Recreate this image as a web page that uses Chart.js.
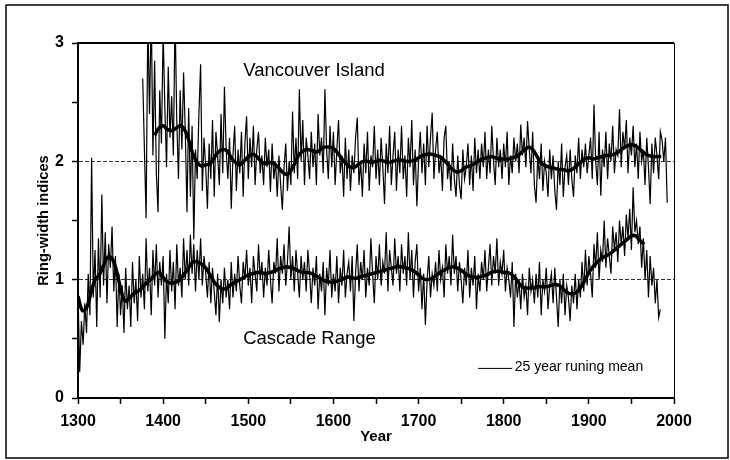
<!DOCTYPE html>
<html>
<head>
<meta charset="utf-8">
<script src="https://cdn.jsdelivr.net/npm/chart.js@4.4.1/dist/chart.umd.min.js"></script>
<style>
  html, body { margin: 0; padding: 0; background: #fff; }
  canvas { display: block; }
</style>
</head>
<body>
<canvas id="myChart" width="730" height="460"></canvas>
<script>
// ring-width indices, Vancouver Island shifted +1 in the figure
const rawStep = 2;
const vanRawStart = 1376;
const vanRaw = [
    2.70, 2.10, 1.52, 3.20, 2.40, 3.30, 2.05, 2.85, 1.90, 1.57,
    2.60, 2.15, 3.10, 2.45, 1.95, 2.80, 2.20, 2.55, 2.05, 3.25,
    2.35, 1.85, 2.60, 2.10, 2.75, 2.25, 1.57, 2.45, 1.70, 2.30,
    1.34, 2.10, 1.85, 2.40, 2.82, 1.75, 2.20, 1.95, 1.60, 2.15,
    1.85, 2.35, 1.70, 2.25, 2.05, 1.80, 2.40, 1.90, 2.63, 2.10,
    1.85, 2.20, 1.60, 2.05, 2.30, 1.75, 2.10, 1.90, 2.25, 1.70,
    2.15, 2.38, 1.85, 2.20, 1.95, 2.30, 1.80, 2.10, 2.25, 1.90,
    2.05, 1.80, 2.20, 1.95, 2.10, 1.74, 2.15, 1.85, 2.00, 1.70,
    2.05, 1.80, 1.59, 1.95, 2.15, 1.75, 2.00, 1.80, 2.42, 1.90,
    2.20, 1.85, 2.61, 2.00, 2.35, 1.80, 2.20, 2.05, 1.85, 2.25,
    1.95, 2.15, 1.80, 2.40, 2.05, 2.20, 1.90, 2.61, 2.10, 1.85,
    2.30, 1.95, 2.25, 1.80, 2.10, 2.35, 1.90, 2.05, 1.70, 2.20,
    1.85, 2.10, 1.75, 2.05, 1.90, 2.20, 2.37, 1.80, 2.00, 1.70,
    2.15, 1.90, 2.25, 1.75, 2.05, 1.95, 2.30, 1.85, 2.10, 1.80,
    2.20, 1.95, 1.64, 2.15, 1.90, 2.30, 1.80, 2.05, 2.25, 1.75,
    2.10, 1.90, 2.30, 1.85, 2.05, 1.70, 2.20, 1.95, 2.35, 1.80,
    2.10, 1.62, 2.00, 2.25, 1.90, 2.15, 1.80, 2.30, 1.95, 2.20,
    2.41, 1.85, 2.10, 2.25, 1.90, 2.05, 1.75, 2.20, 2.30, 1.85,
    2.00, 1.75, 2.15, 1.85, 1.70, 2.05, 1.80, 1.68, 2.10, 1.85,
    1.95, 2.15, 1.80, 2.05, 1.75, 2.20, 1.90, 2.10, 1.85, 2.15,
    1.95, 2.25, 1.85, 2.10, 1.90, 2.30, 2.00, 1.80, 2.20, 1.95,
    2.10, 1.85, 2.15, 1.95, 2.25, 1.80, 2.05, 1.90, 2.20, 2.00,
    2.15, 1.90, 2.31, 2.05, 2.20, 1.95, 2.34, 2.10, 1.90, 2.25,
    1.80, 1.65, 2.05, 1.85, 2.15, 1.75, 2.00, 1.90, 1.70, 2.10,
    1.85, 2.05, 1.75, 1.59, 2.00, 1.80, 2.15, 1.70, 1.95, 2.05,
    1.80, 2.10, 1.85, 1.70, 2.05, 1.90, 2.20, 1.85, 2.10, 1.95,
    2.15, 1.90, 2.05, 2.20, 1.85, 2.48, 2.00, 1.80, 2.25, 1.71,
    2.10, 1.95, 2.25, 1.85, 2.15, 2.00, 2.30, 1.90, 2.10, 2.05,
    2.44, 1.95, 2.25, 2.10, 2.35, 1.90, 2.20, 2.05, 2.30, 1.95,
    2.15, 1.85, 2.25, 2.00, 2.10, 1.80, 2.20, 1.95, 1.64, 2.15,
    1.90, 2.20, 2.05, 1.85, 2.25, 2.18, 2.00, 2.20, 1.65
];

const casRawStart = 1300;
const casRaw = [
    0.90, 0.22, 0.65, 0.45, 0.80, 0.55, 1.05, 0.70, 2.03, 0.85,
    1.25, 0.60, 1.35, 0.85, 1.72, 0.95, 1.40, 0.80, 1.30, 1.10,
    1.45, 0.90, 1.20, 0.60, 1.05, 0.70, 0.95, 0.55, 1.10, 0.75,
    0.95, 0.60, 1.15, 0.80, 1.00, 0.65, 1.20, 0.85, 1.05, 0.75,
    1.35, 0.90, 1.10, 0.70, 1.25, 0.95, 1.30, 0.85, 1.15, 0.95,
    1.20, 0.50, 1.05, 0.80, 1.25, 0.90, 1.15, 0.75, 1.30, 0.95,
    1.10, 0.85, 1.35, 1.00, 1.25, 0.95, 1.38, 1.05, 1.30, 0.90,
    1.25, 1.00, 1.35, 0.95, 1.20, 1.05, 0.85, 1.15, 0.80, 1.10,
    0.90, 0.70, 1.05, 0.64, 1.00, 0.80, 1.10, 0.85, 1.00, 0.75,
    1.15, 0.85, 1.05, 0.90, 1.20, 0.95, 0.80, 1.15, 1.00, 1.25,
    0.95, 1.10, 0.80, 1.20, 1.05, 0.90, 1.30, 1.00, 1.15, 0.85,
    1.10, 0.95, 1.25, 1.00, 0.80, 1.15, 1.05, 1.35, 0.90, 1.20,
    1.05, 1.30, 0.95, 1.15, 1.45, 1.00, 1.20, 0.90, 1.25, 1.05,
    0.85, 1.20, 1.00, 1.15, 0.90, 1.25, 1.05, 0.80, 1.10, 0.95,
    1.20, 0.75, 1.05, 0.90, 1.15, 0.70, 1.10, 0.95, 1.25, 0.85,
    1.05, 0.90, 1.20, 0.80, 1.10, 0.95, 1.25, 0.85, 1.05, 1.15,
    0.90, 1.20, 0.65, 1.05, 1.30, 0.90, 1.15, 1.00, 1.25, 0.85,
    1.10, 0.95, 1.35, 1.05, 0.80, 1.20, 1.00, 1.30, 0.95, 1.15,
    1.05, 1.40, 0.90, 1.25, 1.10, 0.95, 1.35, 1.05, 1.20, 0.90,
    1.30, 1.05, 1.20, 0.95, 1.40, 1.00, 1.25, 0.85, 1.15, 1.30,
    0.90, 1.10, 0.75, 1.05, 0.62, 1.00, 1.20, 0.85, 1.05, 0.95,
    1.15, 0.90, 1.25, 1.00, 1.10, 0.85, 1.30, 1.05, 1.20, 0.95,
    1.38, 1.05, 1.20, 0.90, 1.15, 1.00, 0.80, 1.10, 0.95, 1.25,
    0.85, 1.10, 0.95, 1.20, 0.75, 1.05, 0.90, 1.15, 1.00, 1.25,
    0.90, 1.10, 1.30, 0.95, 1.20, 1.05, 1.35, 0.95, 1.15, 1.05,
    1.25, 0.90, 1.10, 1.00, 0.85, 1.15, 0.60, 1.05, 0.85, 1.00,
    0.75, 1.05, 0.85, 0.95, 0.70, 1.10, 0.90, 1.00, 0.80, 1.05,
    0.85, 1.15, 0.70, 1.00, 0.90, 1.10, 0.75, 0.95, 1.05, 0.80,
    1.10, 0.85, 0.60, 1.00, 0.80, 1.05, 0.70, 0.95, 0.85, 0.65,
    0.95, 0.80, 1.05, 0.75, 1.00, 0.85, 1.15, 0.90, 1.25, 0.95,
    1.20, 1.05, 0.85, 1.30, 1.10, 1.40, 1.00, 1.25, 1.15, 1.50,
    1.10, 1.35, 1.20, 1.05, 1.45, 1.25, 1.40, 1.15, 1.50, 1.30,
    1.45, 1.20, 1.55, 1.35, 1.60, 1.25, 1.78, 1.40, 1.50, 1.30,
    1.45, 1.10, 1.35, 1.00, 1.25, 0.85, 1.20, 0.95, 1.10, 0.80,
    1.00, 0.68, 0.75
];

// 25 year running means, read every 5 years
const meanStep = 5;
const vanMeanStart = 1390;
const vanMean = [
    2.22, 2.28, 2.30, 2.27, 2.26, 2.28, 2.30, 2.27, 2.18, 2.06,
    1.99, 1.96, 1.97, 1.98, 2.03, 2.08, 2.10, 2.09, 2.03, 1.99,
    1.97, 2.00, 2.04, 2.06, 2.04, 2.00, 1.98, 1.99, 1.98, 1.95,
    1.91, 1.89, 1.92, 1.99, 2.06, 2.09, 2.10, 2.09, 2.08, 2.10,
    2.12, 2.12, 2.11, 2.07, 2.02, 1.98, 1.95, 1.95, 1.98, 2.00,
    2.00, 1.99, 2.00, 2.01, 2.00, 1.99, 2.00, 2.01, 2.01, 2.00,
    2.00, 2.01, 2.03, 2.05, 2.06, 2.06, 2.05, 2.04, 2.01, 1.97,
    1.93, 1.91, 1.92, 1.95, 1.96, 1.98, 2.00, 2.02, 2.03, 2.04,
    2.03, 2.02, 2.02, 2.02, 2.03, 2.04, 2.07, 2.10, 2.12, 2.09,
    2.03, 1.98, 1.96, 1.95, 1.94, 1.93, 1.93, 1.92, 1.93, 1.96,
    1.99, 2.02, 2.03, 2.02, 2.03, 2.04, 2.05, 2.05, 2.06, 2.08,
    2.11, 2.13, 2.14, 2.13, 2.10, 2.07, 2.05, 2.04, 2.04, 2.04
];

const casMeanStart = 1300;
const casMean = [
    0.86, 0.74, 0.76, 0.88, 1.00, 1.04, 1.12, 1.19, 1.18, 1.08,
    0.93, 0.82, 0.84, 0.88, 0.90, 0.93, 0.97, 1.00, 1.04, 1.06,
    1.02, 0.98, 0.97, 0.98, 1.00, 1.05, 1.10, 1.15, 1.15, 1.13,
    1.10, 1.04, 0.98, 0.94, 0.92, 0.93, 0.96, 0.98, 1.00, 1.02,
    1.04, 1.05, 1.06, 1.06, 1.05, 1.06, 1.07, 1.09, 1.10, 1.11,
    1.10, 1.09, 1.07, 1.06, 1.06, 1.05, 1.03, 1.01, 0.99, 0.98,
    0.98, 0.99, 1.00, 1.02, 1.02, 1.01, 1.02, 1.03, 1.04, 1.05,
    1.06, 1.07, 1.08, 1.09, 1.10, 1.11, 1.11, 1.10, 1.09, 1.07,
    1.04, 1.01, 1.00, 1.01, 1.03, 1.06, 1.08, 1.10, 1.11, 1.10,
    1.08, 1.05, 1.03, 1.02, 1.02, 1.03, 1.04, 1.06, 1.07, 1.07,
    1.06, 1.06, 1.04, 1.00, 0.95, 0.93, 0.93, 0.93, 0.94, 0.94,
    0.94, 0.95, 0.96, 0.95, 0.92, 0.89, 0.88, 0.89, 0.93, 0.99,
    1.06, 1.11, 1.15, 1.18, 1.20, 1.22, 1.25, 1.28, 1.31, 1.34,
    1.37, 1.37, 1.33, 1.30
];

const yearMin = 1300, yearMax = 2000;
const indexMin = 0, indexMax = 3;

const fontFamily = "'Liberation Sans', Arial, sans-serif";

function toPoints(start, step, values) {
    return values.map((v, i) => ({ x: start + i * step, y: v }));
}

// frame, plot border, series names and legend
const extras = {
    id: 'extras',
    afterDraw(chart) {
        const c = chart.ctx;
        const area = chart.chartArea;
        const xs = chart.scales.x, ys = chart.scales.y;
        c.save();
        c.strokeStyle = '#000';
        // outer frame
        c.lineWidth = 1.5;
        c.strokeRect(6, 5, 722, 453);
        // top and right of plot
        c.lineWidth = 2;
        c.beginPath();
        c.moveTo(area.left, area.top);
        c.lineTo(area.right, area.top);
        c.stroke();
        c.lineWidth = 1;
        c.beginPath();
        c.moveTo(area.right + 0.5, area.top);
        c.lineTo(area.right + 0.5, area.bottom);
        c.stroke();

        c.fillStyle = '#000';
        c.textBaseline = 'alphabetic';
        c.font = '18.5px ' + fontFamily;
        c.fillText('Vancouver Island', xs.getPixelForValue(1494), ys.getPixelForValue(2.72));
        c.fillText('Cascade Range', xs.getPixelForValue(1494), ys.getPixelForValue(0.456));

        // legend
        c.lineWidth = 1;
        c.beginPath();
        c.moveTo(xs.getPixelForValue(1770), ys.getPixelForValue(0.25));
        c.lineTo(xs.getPixelForValue(1810), ys.getPixelForValue(0.25));
        c.stroke();
        c.font = '14px ' + fontFamily;
        c.fillText('25 year runing mean', xs.getPixelForValue(1813), ys.getPixelForValue(0.228));
        c.restore();
    }
};

document.addEventListener('DOMContentLoaded', function () {
    const ctx = document.getElementById('myChart').getContext('2d');

    new Chart(ctx, {
        type: 'line',
        data: {
            datasets: [
                {
                    label: 'Vancouver Island',
                    data: toPoints(vanRawStart, rawStep, vanRaw),
                    borderColor: '#000',
                    borderWidth: 1.2,
                    pointRadius: 0,
                    tension: 0
                },
                {
                    label: 'Cascade Range',
                    data: toPoints(casRawStart, rawStep, casRaw),
                    borderColor: '#000',
                    borderWidth: 1.2,
                    pointRadius: 0,
                    tension: 0
                },
                {
                    label: 'Vancouver Island 25 yr mean',
                    data: toPoints(vanMeanStart, meanStep, vanMean),
                    borderColor: '#000',
                    borderWidth: 3.5,
                    pointRadius: 0,
                    tension: 0.4
                },
                {
                    label: 'Cascade Range 25 yr mean',
                    data: toPoints(casMeanStart, meanStep, casMean),
                    borderColor: '#000',
                    borderWidth: 3.5,
                    pointRadius: 0,
                    tension: 0.4
                }
            ]
        },
        options: {
            responsive: false,
            animation: false,
            layout: { padding: { left: 0, top: 43, right: 56, bottom: 0 } },
            plugins: {
                legend: { display: false },
                tooltip: { enabled: false }
            },
            scales: {
                x: {
                    type: 'linear',
                    min: yearMin,
                    max: yearMax,
                    afterFit: function (scale) { scale.height = 62; },
                    grid: {
                        drawOnChartArea: false,
                        tickLength: 6,
                        tickColor: '#000',
                        tickWidth: 1.5
                    },
                    border: { display: true, color: '#000', width: 2 },
                    ticks: {
                        stepSize: 50,
                        autoSkip: false,
                        maxRotation: 0,
                        padding: 8,
                        color: '#000',
                        font: { family: fontFamily, size: 16, weight: 'bold' },
                        callback: function (v) { return v % 100 === 0 ? String(v) : ''; }
                    },
                    title: {
                        display: true,
                        text: 'Year',
                        color: '#000',
                        font: { family: fontFamily, size: 15, weight: 'bold' },
                        padding: { top: 0, bottom: 14 }
                    }
                },
                y: {
                    min: indexMin,
                    max: indexMax,
                    afterFit: function (scale) { scale.width = 78; },
                    grid: {
                        drawOnChartArea: true,
                        color: function (c) {
                            return (c.tick && (c.tick.value === 1 || c.tick.value === 2)) ? '#333' : 'rgba(0,0,0,0)';
                        },
                        lineWidth: 1,
                        tickLength: 6,
                        tickColor: '#000',
                        tickWidth: 1.5
                    },
                    border: { display: true, color: '#000', width: 2, dash: [4, 2] },
                    ticks: {
                        stepSize: 0.5,
                        autoSkip: false,
                        padding: 8,
                        color: '#000',
                        font: { family: fontFamily, size: 16, weight: 'bold' },
                        callback: function (v) { return Number.isInteger(v) ? String(v) : ''; }
                    },
                    title: {
                        display: true,
                        text: 'Ring-width indices',
                        color: '#000',
                        font: { family: fontFamily, size: 14.7, weight: 'bold' },
                        padding: { top: 35, bottom: 0 }
                    }
                }
            }
        },
        plugins: [extras]
    });
});
</script>
</body>
</html>
